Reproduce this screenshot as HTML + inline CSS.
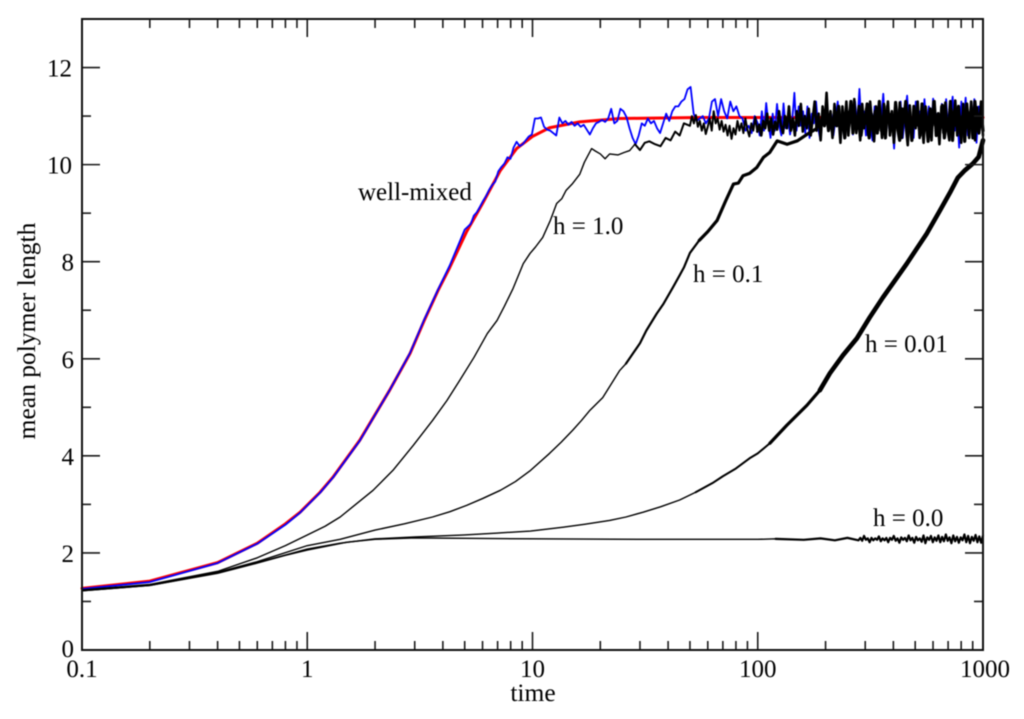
<!DOCTYPE html>
<html lang="en">
<head>
<meta charset="utf-8">
<title>Mean polymer length vs time</title>
<style>
html,body{margin:0;padding:0;background:#fff;width:1024px;height:719px;overflow:hidden}
svg{display:block;filter:blur(0.55px)}
text{font-family:"Liberation Serif",serif;fill:#000}
</style>
</head>
<body>
<svg id="chart" width="1024" height="719" viewBox="0 0 1024 719" xmlns="http://www.w3.org/2000/svg">
<g id="series"></g>
<g id="axes"></g>
<text x="533" y="701" font-size="25.5" text-anchor="middle">time</text>
<text transform="translate(35,331) rotate(-90)" font-size="25.5" text-anchor="middle">mean polymer length</text>
<text x="358" y="200" font-size="25">well-mixed</text>
<text x="553" y="234" font-size="25">h = 1.0</text>
<text x="693" y="282" font-size="25">h = 0.1</text>
<text x="865" y="352" font-size="25">h = 0.01</text>
<text x="873" y="526" font-size="25">h = 0.0</text>
</svg>
<script>
const xTickLabels = ["0.1","1","10","100","1000"];
const xMajorTicks = [0.1,1,10,100,1000];
const xMinorMultipliers = [2,3,4,5,6,7,8,9];
const yMajorTicks = [0,2,4,6,8,10,12];
const yMinorTicks = [1,3,5,7,9,11];

const redTimes = [0.1,0.2,0.4,0.6,0.8,0.93,1.14,1.3,1.71,2.32,2.86,3.3,3.8,4.29,5.1,6,7.2,8.5,10,11.9,16.2,24.4,55,1000];
const redValues = [1.27,1.42,1.8,2.2,2.6,2.84,3.25,3.56,4.32,5.35,6.11,6.78,7.4,7.88,8.62,9.2,9.88,10.33,10.58,10.76,10.88,10.95,10.97,10.97];

const blueTimes = [0.1,0.2,0.4,0.6,0.8,0.93,1.14,1.3,1.71,2.32,2.86,3.3,3.8,4.29];
const blueValues = [1.26,1.4,1.79,2.19,2.58,2.83,3.24,3.55,4.31,5.35,6.12,6.8,7.42,7.92];
const blueNoiseAStart = 5.0;
const blueNoiseAEnd = 100;
const blueNoiseA = [8.66,8.72,8.78,8.95,9.02,9.13,9.25,9.35,9.48,9.58,9.65,9.86,9.95,10.02,10.15,10.12,10.35,10.47,10.38,10.42,10.5,10.58,10.62,10.95,10.95,10.97,10.78,10.72,10.7,10.65,10.6,10.97,10.85,10.9,10.82,10.88,10.8,10.85,10.78,10.82,10.72,10.62,10.75,10.85,10.88,10.92,10.88,10.95,11.15,10.85,10.9,11.15,11.1,10.98,10.75,10.55,10.42,10.6,10.85,10.8,10.95,10.85,10.9,10.75,10.65,10.85,11.05,10.9,11.1,11.2,11.2,11.3,11.35,11.55,11.6,11.05,10.9,10.95,11,10.85,10.95,11.3,11.35,11,11.35,11.1,10.95,11.3,11.1,11.2,11,10.95,10.7,10.8,10.65,11,10.85];
const blueNoiseBStart = 102;
const blueNoiseBEnd = 1000;
const blueNoiseB = [10.6,11.1,10.7,11.27,10.85,10.55,11.05,10.7,11.25,10.8,10.6,11.26,10.75,11,10.62,10.9,11.48,10.7,11.2,10.8,11.1,10.65,11.2,10.55,11.05,10.85,11.3,10.75,10.5,11.15,10.8,11.25,10.7,11.05,10.6,10.95,11.3,10.7,11,10.55,11.2,10.85,11.15,10.62,11.3,10.8,11.56,10.75,11.1,10.6,11.25,10.85,10.5,11.2,10.7,11.05,10.9,11.46,10.7,11.2,10.6,10.95,10.33,11.2,10.8,11.3,10.55,11.05,11.42,10.7,10.95,10.55,11.3,10.8,11.1,10.65,11.35,10.75,11.2,10.6,11.36,10.85,11.05,10.5,11.25,10.75,11.35,10.6,11,11.4,10.7,11.15,10.35,11.3,10.8,11.38,10.6,11.05,10.75,11.35,10.45,11.2,10.85,11.3];

const h1Times = [0.1,0.2,0.4,0.6,0.8,1,1.2,1.4,1.96,2.4,2.96,3.6,4.17,4.76,5.5,6.3,6.96,7.5,8.2,9.1,9.75,10.3,11.1,12,12.8,13.5,14.1,15,16.2,17,18.3,19,20,21,22,24,25.5,27,28.5,30,31.5,33,35,37,39,41,43,45,47];
const h1Values = [1.24,1.35,1.62,1.9,2.15,2.37,2.55,2.74,3.29,3.7,4.22,4.73,5.14,5.56,6.03,6.52,6.79,7.08,7.45,7.96,8.17,8.3,8.5,8.85,9.2,9.3,9.47,9.6,9.8,10.05,10.33,10.28,10.22,10.12,10.22,10.2,10.25,10.29,10.42,10.3,10.45,10.48,10.42,10.38,10.55,10.5,10.68,10.6,10.85];
const h1NoiseStart = 50;
const h1NoiseEnd = 1000;
const h1Noise = [10.8,11,10.85,11.02,10.78,10.9,10.7,10.85,10.63,10.78,10.95,10.7,11.1,10.85,10.95,10.72,10.9,10.68,10.82,10.6,10.8,10.53,10.75,10.62,10.9,10.7,10.85,10.65,10.95,10.72,10.58,10.85,10.7,10.98,10.68,10.82,10.6,10.9,10.75,11.05,10.7,10.95,10.62,10.88,10.72,11.1,10.8,10.65,11,10.75,11.2,10.7,10.95,10.6,11.1,10.8,11.25,10.68,11,10.75,11.15,10.6,10.95,11.3,10.7,11.05,10.5,11.2,10.8,11.48,10.7,11.1,10.55,11.25,10.8,11.05,10.45,11.2,10.75,11.3,10.6,11.1,10.85,11.35,10.65,11,10.5,11.25,10.75,11.15,10.6,11.3,10.85,10.48,11.2,10.7,11.05,10.55,11.25,10.8,11.3,10.6,11.1,10.45,11,10.75,11.28,10.55,11.15,10.8,10.4,11.22,10.65,11.05,10.75,11.3,10.55,10.95,10.45,11.2,10.7,11.1,10.5,11.3,10.8,11,10.42,11.2,10.65,11.28,10.75,10.5,11.15,10.85,11.32,10.6,11.05,10.45,11.25,10.7,11.1,10.55,11.3,10.8,10.5,11.18,10.7,11.3,10.6];

const h01Times = [0.1,0.2,0.4,0.6,1,1.4,2,2.7,3.6,4.3,5.1,6,7.2,8.4,9.8,11.9,13.4,15.1,16.5,18,20.5,24.4,26,30,32,35.6,38,42,45,47,50,55,60,66,72,78,82,86,92,99,106,113,122,135,150,165];
const h01Values = [1.23,1.34,1.6,1.82,2.15,2.28,2.47,2.6,2.74,2.85,2.98,3.12,3.29,3.47,3.7,4.05,4.28,4.53,4.73,4.94,5.2,5.76,5.9,6.32,6.58,6.93,7.12,7.47,7.72,7.88,8.18,8.44,8.62,8.85,9.25,9.6,9.62,9.77,9.82,9.94,10.15,10.25,10.49,10.42,10.49,10.62];
const h01NoiseStart = 182;
const h01NoiseEnd = 1000;
const h01Noise = [10.74,10.95,10.7,11,10.8,11.1,10.7,10.95,10.65,11.05,10.8,11.2,10.7,10.9,10.55,11.1,10.8,11.3,10.65,11,10.75,11.2,10.6,10.95,10.85,11.25,10.55,11.05,10.75,11.1,10.65,11.3,10.7,10.95,10.55,11.2,10.85,11.05,10.6,11.28,10.75,10.5,11.15,10.9,11.3,10.65,10.95,10.5,11.2,10.8,11.05,10.6,11.25,10.7,10.95,10.48,11.15,10.8,11.3,10.6,11.05,10.75,11.22,10.55,10.95,10.7,11.3,10.5,11.1,10.8,11.2,10.6,11,10.48,11.25,10.75,11.1,10.55,11.3,10.85,10.65,11.15,10.7];

const h001Times = [0.1,0.2,0.4,0.6,1,1.4,2,3,5,7,9.8,13.7,17,22,26,31,37,45,53,63,70,80,92,100,113.2,134.6,165.2,188.6,209,238.7,275.4,314,359,406,459,508,563,643,713,773,830,901,957,1000];
const h001Values = [1.22,1.33,1.59,1.8,2.08,2.2,2.29,2.33,2.37,2.41,2.45,2.53,2.59,2.67,2.74,2.84,2.95,3.09,3.25,3.44,3.58,3.74,3.95,4.05,4.26,4.63,5.04,5.35,5.7,6.07,6.42,6.85,7.26,7.61,7.96,8.27,8.58,9.05,9.42,9.73,9.88,10.02,10.16,10.5];

const h00Times = [0.1,0.2,0.4,0.6,0.8,1,1.5,2,3,5,10,30,100,120,160,190,220,250];
const h00Values = [1.22,1.33,1.58,1.79,1.95,2.06,2.22,2.28,2.31,2.3,2.29,2.28,2.28,2.29,2.27,2.3,2.26,2.31];
const h00NoiseStart = 280;
const h00NoiseEnd = 1000;
const h00Noise = [2.26,2.31,2.25,2.35,2.27,2.3,2.22,2.31,2.26,2.3,2.27,2.34,2.24,2.3,2.26,2.31,2.22,2.31,2.27,2.35,2.25,2.3,2.21,2.32,2.27,2.31,2.24,2.36,2.26,2.31,2.21,2.33,2.26,2.3,2.23,2.36,2.2,2.32,2.27,2.35,2.22,2.32,2.25,2.36,2.22,2.33,2.24,2.38,2.25,2.32,2.2,2.36,2.24,2.33,2.21,2.32,2.26,2.38,2.22,2.35,2.2,2.33,2.25,2.37,2.22,2.34,2.21,2.36];

const plotLeft = 82, plotRight = 983, plotTop = 19, plotBottom = 650;
const xDomainMin = 0.1, xDomainMax = 1000, yDomainMax = 13;
const svgNS = "http://www.w3.org/2000/svg";

function xScale(t){
  return plotLeft + (Math.log10(t) - Math.log10(xDomainMin)) / (Math.log10(xDomainMax) - Math.log10(xDomainMin)) * (plotRight - plotLeft);
}
function yScale(v){
  return plotBottom - v / yDomainMax * (plotBottom - plotTop);
}
function sampleTimes(start, end, count){
  const out = [];
  for (let i = 0; i < count; i++) {
    out.push(start * Math.pow(end / start, count > 1 ? i / (count - 1) : 0));
  }
  return out;
}
function drawStage(times, values, color, width, from, to, name){
  let d = "";
  let started = false;
  for (let i = 0; i < times.length; i++) {
    if (times[i] > to) {
      d += "L" + xScale(times[i]).toFixed(2) + " " + yScale(values[i]).toFixed(2);
      break;
    }
    if (times[i] < from) continue;
    if (!started && i > 0) {
      d += "M" + xScale(times[i - 1]).toFixed(2) + " " + yScale(values[i - 1]).toFixed(2);
    }
    d += (d ? "L" : "M") + xScale(times[i]).toFixed(2) + " " + yScale(values[i]).toFixed(2);
    started = true;
  }
  const p = document.createElementNS(svgNS, "path");
  p.setAttribute("d", d);
  p.setAttribute("fill", "none");
  p.setAttribute("stroke", color);
  p.setAttribute("stroke-width", width);
  p.setAttribute("stroke-linejoin", "round");
  p.setAttribute("stroke-linecap", "round");
  
  
  document.getElementById("series").appendChild(p);
}
function drawSeries(times, values, color, stages, name){
  stages.forEach(function(s){
    drawStage(times, values, color, s[2], s[0], s[1], name);
  });
}

const blueAllTimes = blueTimes.concat(sampleTimes(blueNoiseAStart, blueNoiseAEnd, blueNoiseA.length), sampleTimes(blueNoiseBStart, blueNoiseBEnd, blueNoiseB.length));
const blueAllValues = blueValues.concat(blueNoiseA, blueNoiseB);
const h1AllTimes = h1Times.concat(sampleTimes(h1NoiseStart, h1NoiseEnd, h1Noise.length));
const h1AllValues = h1Values.concat(h1Noise);
const h01AllTimes = h01Times.concat(sampleTimes(h01NoiseStart, h01NoiseEnd, h01Noise.length));
const h01AllValues = h01Values.concat(h01Noise);
const h00AllTimes = h00Times.concat(sampleTimes(h00NoiseStart, h00NoiseEnd, h00Noise.length));
const h00AllValues = h00Values.concat(h00Noise);

drawSeries(redTimes, redValues, "#ff0000", [[0.1,1000,3]], "series-well-mixed-mean-field");
drawSeries(blueAllTimes, blueAllValues, "#0000ff", [[0.1,1000,1.8]], "series-well-mixed-simulation");
drawSeries(h00AllTimes, h00AllValues, "#000000", [[0.1,150,1.4],[150,1000,2.2]], "series-h-0-0");
drawSeries(h001Times, h001Values, "#000000", [[0.1,60,1.4],[60,130,2],[130,200,3.2],[200,1000,4.6]], "series-h-0-01");
drawSeries(h01AllTimes, h01AllValues, "#000000", [[0.1,28,1.4],[28,60,2.2],[60,1000,3.2]], "series-h-0-1");
drawSeries(h1AllTimes, h1AllValues, "#000000", [[0.1,30,1.4],[30,100,2],[100,1000,2.6]], "series-h-1-0");

const axes = document.getElementById("axes");
function addLine(x1, y1, x2, y2, width, name){
  const l = document.createElementNS(svgNS, "line");
  l.setAttribute("x1", x1);
  l.setAttribute("y1", y1);
  l.setAttribute("x2", x2);
  l.setAttribute("y2", y2);
  l.setAttribute("stroke", "#1a1a1a");
  l.setAttribute("stroke-width", width);
  
  
  axes.appendChild(l);
}
function addLabel(x, y, str, anchor, name){
  const t = document.createElementNS(svgNS, "text");
  t.setAttribute("x", x);
  t.setAttribute("y", y);
  t.setAttribute("font-size", "25");
  t.setAttribute("text-anchor", anchor);
  
  
  t.textContent = str;
  axes.appendChild(t);
}
const majorLen = 18, minorLen = 9;
xMajorTicks.forEach(function(t, i){
  const x = xScale(t);
  addLine(x, plotBottom, x, plotBottom - majorLen, 1.6, "x-major-tick");
  addLine(x, plotTop, x, plotTop + majorLen, 1.6, "x-major-tick-top");
  addLabel(x + (i === 4 ? 2 : 0), 677, xTickLabels[i], "middle", "x-tick-label");
  if (i < xMajorTicks.length - 1) {
    xMinorMultipliers.forEach(function(m){
      const mx = xScale(t * m);
      addLine(mx, plotBottom, mx, plotBottom - minorLen, 1.6, "x-minor-tick");
      addLine(mx, plotTop, mx, plotTop + minorLen, 1.6, "x-minor-tick-top");
    });
  }
});
yMajorTicks.forEach(function(v){
  const y = yScale(v);
  addLine(plotLeft, y, plotLeft + majorLen, y, 1.6, "y-major-tick");
  addLine(plotRight, y, plotRight - majorLen, y, 1.6, "y-major-tick-right");
  addLabel(v >= 10 ? 72 : 74, y + (v === 0 ? 7 : 9), String(v), "end", "y-tick-label");
});
yMinorTicks.forEach(function(v){
  const y = yScale(v);
  addLine(plotLeft, y, plotLeft + minorLen, y, 1.6, "y-minor-tick");
  addLine(plotRight, y, plotRight - minorLen, y, 1.6, "y-minor-tick-right");
});
const frame = document.createElementNS(svgNS, "rect");
frame.setAttribute("x", plotLeft);
frame.setAttribute("y", plotTop);
frame.setAttribute("width", plotRight - plotLeft);
frame.setAttribute("height", plotBottom - plotTop);
frame.setAttribute("fill", "none");
frame.setAttribute("stroke", "#111");
frame.setAttribute("stroke-width", "2");


axes.appendChild(frame);
</script>
</body>
</html>
